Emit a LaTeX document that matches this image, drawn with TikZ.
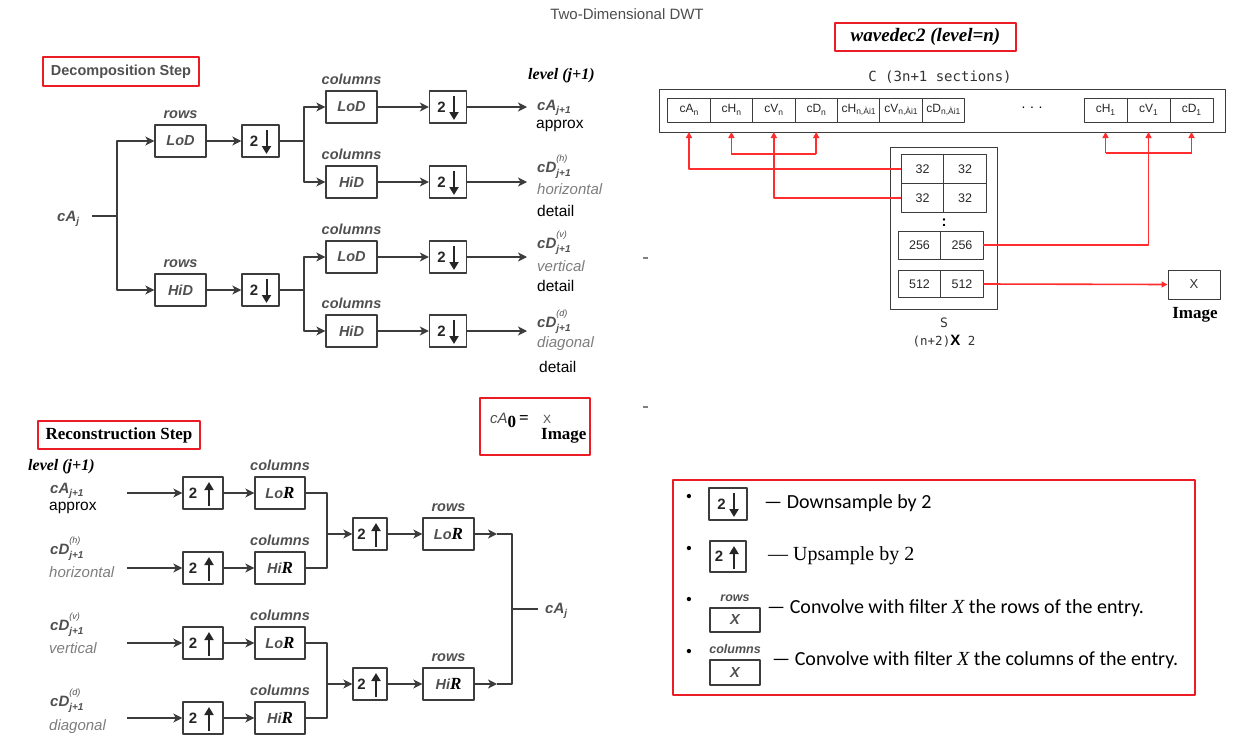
\documentclass[tikz,border=0pt]{standalone}
\usepackage{fontspec}
\setmainfont{Liberation Serif}
\setsansfont{Liberation Sans}
\setmonofont{DejaVu Sans Mono}
\newfontfamily\legfont{Carlito}
\usetikzlibrary{arrows.meta,positioning}

\definecolor{boxred}{RGB}{236,28,36}
\definecolor{wirered}{RGB}{255,45,45}
\definecolor{labgray}{RGB}{80,80,80}
\definecolor{softgray}{RGB}{125,125,125}
\definecolor{linegray}{RGB}{60,60,60}

\newcommand{\sbs}[1]{\raisebox{-3.5pt}{\fontsize{10}{10}\selectfont #1}}
\newcommand{\csbs}[1]{\raisebox{-2.5pt}{\fontsize{8.5}{8.5}\selectfont #1}}
\newcommand{\spsb}[2]{\makebox[0pt][l]{\raisebox{11pt}{\fontsize{9}{9}\selectfont\mdseries #1}}\raisebox{-4pt}{\fontsize{10}{10}\selectfont #2}}
\newcommand{\gap}[1]{\kern#1}

\tikzset{
  wire/.style={draw=linegray, line width=1.3pt},
  flow/.style={wire, -{Stealth[length=9pt,width=9pt,inset=2.5pt]}},
  redbox/.style={draw=boxred, line width=2.6pt, inner sep=0pt},
  redwire/.style={draw=wirered, line width=1.6pt},
  redarr/.style={redwire, -{Triangle[length=6pt,width=6pt]}},
  hdr/.style={font=\sffamily\bfseries\itshape\fontsize{14.5}{15}\selectfont, text=labgray, inner sep=1pt},
  blk/.style={draw=linegray, line width=1.3pt, inner sep=0pt, minimum width=51, minimum height=32,
    font=\sffamily\bfseries\itshape\fontsize{14.5}{15}\selectfont, text=labgray},
  rowblk/.style={blk, label={[hdr, label distance=5pt]above:rows}},
  colblk/.style={blk, label={[hdr, label distance=5pt]above:columns}},
  dsblk/.style={blk, minimum width=37, font=\sffamily\bfseries\fontsize{15}{15}\selectfont, text=black!85,
    path picture={\draw[line width=2pt, black!85, -{Triangle[length=8pt,width=9pt]}]
      ([xshift=6pt,yshift=-5pt]path picture bounding box.north) -- ([xshift=6pt,yshift=3pt]path picture bounding box.south);}},
  usblk/.style={blk, minimum width=40, font=\sffamily\bfseries\fontsize{15}{15}\selectfont, text=black!85,
    path picture={\draw[line width=2pt, black!85, -{Triangle[length=8pt,width=9pt]}]
      ([xshift=6pt,yshift=3pt]path picture bounding box.south) -- ([xshift=6pt,yshift=-5pt]path picture bounding box.north);}},
  lbl/.style={font=\sffamily\bfseries\itshape\fontsize{15}{15}\selectfont, text=labgray, inner sep=0pt, anchor=base west},
  softlbl/.style={font=\sffamily\itshape\fontsize{15}{15}\selectfont, text=softgray, inner sep=0pt, anchor=base west},
  plainlbl/.style={font=\sffamily\fontsize{15.5}{16}\selectfont, text=black, inner sep=0pt, anchor=base west},
  lvl/.style={font=\rmfamily\bfseries\itshape\fontsize{16}{16}\selectfont, text=black, inner sep=0pt, anchor=base west},
  cvcell/.style={draw=linegray, line width=0.9pt, inner sep=0pt, outer sep=0pt, minimum width=42.4, minimum height=24,
    font=\sffamily\fontsize{12}{12}\selectfont, text=black!85},
  scell/.style={cvcell, minimum width=42.5, font=\sffamily\fontsize{12.5}{13}\selectfont},
  legtxt/.style={font=\legfont\fontsize{20}{20}\selectfont, inner sep=0pt, anchor=west},
  bul/.style={font=\rmfamily\fontsize{18}{18}\selectfont, inner sep=0pt}
}

\begin{document}
\begin{tikzpicture}[x=1pt, y=-1pt, line join=round]
\useasboundingbox (0,0) rectangle (1237,744);

\node[font=\sffamily\fontsize{15}{15}\selectfont, text=black!70] (title) at (627,14) {Two-Dimensional DWT};

% decomposition step
\node[redbox, minimum width=156, minimum height=29, font=\sffamily\bfseries\fontsize{14.5}{15}\selectfont, text=labgray] (decstep) at (121,71.5) {Decomposition Step};

\node[lbl] (cAj) at (57,221) {cA\sbs{j}};
\coordinate (cAjout) at (92,216);
\coordinate (spR) at (117,216);
\draw[wire, line width=2.4pt] (cAjout) -- (spR);

\node[rowblk] (LoDr) at (180.5,141) {LoD};
\node[rowblk] (HiDr) at (180.5,290) {HiD};
\node[dsblk] (dsL) at (260.5,141) {2\gap{13pt}};
\node[dsblk] (dsH) at (260.5,290) {2\gap{13pt}};
\coordinate (spL) at (304,141);
\coordinate (spH) at (304,290);

\node[colblk] (LoDa) at (351.5,107) {LoD};
\node[colblk] (HiDh) at (351.5,182) {HiD};
\node[colblk] (LoDv) at (351.5,257) {LoD};
\node[colblk] (HiDd) at (351.5,331) {HiD};
\node[dsblk] (dsA) at (448,107) {2\gap{13pt}};
\node[dsblk] (dsHh) at (448,182) {2\gap{13pt}};
\node[dsblk] (dsV) at (448,257) {2\gap{13pt}};
\node[dsblk] (dsD) at (448,331) {2\gap{13pt}};
\coordinate (outA) at (527,107);
\coordinate (outH) at (527,182);
\coordinate (outV) at (527,257);
\coordinate (outD) at (527,331);

\draw[flow] (spR) |- (LoDr);
\draw[flow] (spR) |- (HiDr);
\draw[flow] (LoDr) -- (dsL);
\draw[flow] (HiDr) -- (dsH);
\draw[wire] (dsL) -- (spL);
\draw[wire] (dsH) -- (spH);
\draw[flow] (spL) |- (LoDa);
\draw[flow] (spL) |- (HiDh);
\draw[flow] (spH) |- (LoDv);
\draw[flow] (spH) |- (HiDd);
\draw[flow] (LoDa) -- (dsA);
\draw[flow] (HiDh) -- (dsHh);
\draw[flow] (LoDv) -- (dsV);
\draw[flow] (HiDd) -- (dsD);
\draw[flow] (dsA) -- (outA);
\draw[flow] (dsHh) -- (outH);
\draw[flow] (dsV) -- (outV);
\draw[flow] (dsD) -- (outD);

\node[lvl] (lvlD) at (528,79) {level (j+1)};
\node[lbl] (cAn1) at (537,110) {cA\sbs{j+1}};
\node[plainlbl] (apxD) at (536,128) {approx};
\node[lbl] (cDh) at (537,172) {cD\spsb{(h)}{j+1}};
\node[softlbl] (horD) at (537,194) {horizontal};
\node[plainlbl] (detH) at (537,216) {detail};
\node[lbl] (cDv) at (537,248) {cD\spsb{(v)}{j+1}};
\node[softlbl] (verD) at (537,271) {vertical};
\node[plainlbl] (detV) at (537,291) {detail};
\node[lbl] (cDd) at (537,327) {cD\spsb{(d)}{j+1}};
\node[softlbl] (diaD) at (537,347) {diagonal};
\node[plainlbl] (detD) at (539,372) {detail};

% small marks
\draw[gray, line width=1.5pt] (643,258) -- (648,258);
\draw[gray, line width=1.5pt] (643,407) -- (648,407);

% reconstruction step
\node[redbox, minimum width=162, minimum height=28, font=\rmfamily\bfseries\fontsize{17}{17}\selectfont] (recstep) at (119,435) {Reconstruction Step};
\node[lvl] (lvlR) at (28,470) {level (j+1)};

\node[lbl] (rcA) at (50,493) {cA\sbs{j+1}};
\node[plainlbl] (rapx) at (49,510) {approx};
\node[lbl] (rcDh) at (50,554) {cD\spsb{(h)}{j+1}};
\node[softlbl] (rhor) at (49,577) {horizontal};
\node[lbl] (rcDv) at (50,630) {cD\spsb{(v)}{j+1}};
\node[softlbl] (rver) at (49,653) {vertical};
\node[lbl] (rcDd) at (50,706) {cD\spsb{(d)}{j+1}};
\node[softlbl] (rdia) at (49,730) {diagonal};

\coordinate (inA) at (127,493);
\coordinate (inH) at (127,568);
\coordinate (inV) at (127,643);
\coordinate (inD) at (127,718);
\node[usblk] (usA) at (203,493) {2\gap{20pt}};
\node[usblk] (usH) at (203,568) {2\gap{20pt}};
\node[usblk] (usV) at (203,643) {2\gap{20pt}};
\node[usblk] (usD) at (203,718) {2\gap{20pt}};
\node[colblk, minimum width=50] (LoRa) at (280,493) {Lo{\rmfamily\fontsize{17}{17}\selectfont\color{black}R}};
\node[colblk, minimum width=50] (HiRh) at (280,568) {Hi{\rmfamily\fontsize{17}{17}\selectfont\color{black}R}};
\node[colblk, minimum width=50] (LoRv) at (280,643) {Lo{\rmfamily\fontsize{17}{17}\selectfont\color{black}R}};
\node[colblk, minimum width=50] (HiRd) at (280,718) {Hi{\rmfamily\fontsize{17}{17}\selectfont\color{black}R}};

\coordinate (jnT) at (327,534);
\coordinate (jnB) at (327,684);
\node[usblk, minimum width=34] (usT) at (370,534) {2\gap{17pt}};
\node[usblk, minimum width=34] (usB) at (370,684) {2\gap{17pt}};
\node[rowblk] (LoRr) at (448.5,534) {Lo{\rmfamily\fontsize{17}{17}\selectfont\color{black}R}};
\node[rowblk] (HiRr) at (448.5,684) {Hi{\rmfamily\fontsize{17}{17}\selectfont\color{black}R}};
\coordinate (ahT) at (497,534);
\coordinate (ahB) at (497,684);
\coordinate (jnO) at (512,609);
\coordinate (outR) at (538,609);

\draw[flow] (inA) -- (usA);
\draw[flow] (inH) -- (usH);
\draw[flow] (inV) -- (usV);
\draw[flow] (inD) -- (usD);
\draw[flow] (usA) -- (LoRa);
\draw[flow] (usH) -- (HiRh);
\draw[flow] (usV) -- (LoRv);
\draw[flow] (usD) -- (HiRd);
\draw[wire] (LoRa) -| (jnT) |- (HiRh);
\draw[wire] (LoRv) -| (jnB) |- (HiRd);
\draw[flow] (jnT) -- (usT);
\draw[flow] (jnB) -- (usB);
\draw[flow] (usT) -- (LoRr);
\draw[flow] (usB) -- (HiRr);
\draw[flow] (LoRr) -- (ahT);
\draw[flow] (HiRr) -- (ahB);
\draw[wire] (ahT) -| (jnO) |- (ahB);
\draw[wire, line width=2.4pt] (jnO) -- (outR);
\node[lbl] (rcAj) at (545,613) {cA\sbs{j}};

% cA0 = X
\node[redbox, minimum width=110, minimum height=57] (cA0box) at (535,426.5) {};
\node[lbl, font=\sffamily\itshape\fontsize{15}{15}\selectfont] (cA0) at (490,423) {cA{\rmfamily\bfseries\upshape\fontsize{17}{17}\selectfont\color{black}\raisebox{-4pt}{0}\,=}};
\node[lbl, font=\sffamily\fontsize{12}{12}\selectfont] (cA0x) at (543,423) {X};
\node[lbl, font=\rmfamily\bfseries\fontsize{17}{17}\selectfont, text=black] (cA0img) at (541,439) {Image};

% wavedec2
\node[redbox, minimum width=181, minimum height=28, font=\rmfamily\bfseries\itshape\fontsize{19}{19}\selectfont] (wdec) at (925.5,37) {wavedec2 (level=n)};
\node[font=\ttfamily\fontsize{14}{14}\selectfont, text=black!80] (Csec) at (940,77) {C (3n+1 sections)};
\node[draw=linegray, line width=1pt, inner sep=0pt, outer sep=0pt, minimum width=566, minimum height=43] (Cvec) at (942,110.5) {};

\node[cvcell] (cAn) at (689,110) {cA\csbs{n}};
\node[cvcell, right=0pt of cAn] (cHn) {cH\csbs{n}};
\node[cvcell, right=0pt of cHn] (cVn) {cV\csbs{n}};
\node[cvcell, right=0pt of cVn] (cDn) {cD\csbs{n}};
\node[cvcell, right=0pt of cDn] (cHm) {cH\csbs{n,Ài1}};
\node[cvcell, right=0pt of cHm] (cVm) {cV\csbs{n,Ài1}};
\node[cvcell, right=0pt of cVm] (cDm) {cD\csbs{n,Ài1}};
\node[font=\sffamily\fontsize{14}{14}\selectfont] (cdots) at (1032,108) {.\,\,.\,\,.};
\node[cvcell, minimum width=43] (cH1) at (1105.5,110) {cH\csbs{1}};
\node[cvcell, minimum width=43, right=0pt of cH1] (cV1) {cV\csbs{1}};
\node[cvcell, minimum width=43, right=0pt of cV1] (cD1) {cD\csbs{1}};

% S matrix
\node[draw=linegray, line width=1pt, inner sep=0pt, minimum width=107, minimum height=162] (Sarr) at (943.5,228) {};
\node[scell, minimum height=29] (s32a) at (922.5,169) {32};
\node[scell, minimum height=29, right=0pt of s32a] (s32b) {32};
\node[scell, minimum height=29, below=0pt of s32a] (s32c) {32};
\node[scell, minimum height=29, right=0pt of s32c] (s32d) {32};
\node[font=\sffamily\bfseries\fontsize{15}{15}\selectfont] (sdots) at (944,223) {:};
\node[scell, minimum height=28] (s256a) at (919.5,245) {256};
\node[scell, minimum height=28, right=0pt of s256a] (s256b) {256};
\node[scell, minimum height=27] (s512a) at (919.5,284) {512};
\node[scell, minimum height=27, right=0pt of s512a] (s512b) {512};
\node[font=\ttfamily\fontsize{13}{13}\selectfont, text=black!80] (Slbl) at (944,323) {S};
\node[font=\ttfamily\fontsize{12.5}{13}\selectfont, text=black!80] (Ssize) at (944,341) {(n+2){\sffamily\bfseries\fontsize{15}{15}\selectfont\color{black}X} 2};

\node[draw=linegray, line width=1pt, inner sep=0pt, minimum width=52, minimum height=29, font=\sffamily\fontsize{13}{13}\selectfont, text=black!80] (Ximg) at (1194,284.5) {X};
\node[font=\rmfamily\bfseries\fontsize{17}{17}\selectfont] (Ximglbl) at (1195,315) {Image};

\coordinate (brkL) at (0,154);
\coordinate (brkR) at (0,153);
\draw[redarr] (s32a.west) -| (cAn.south |- Cvec.south);
\draw[redarr] (s32c.west) -| (cVn.south |- Cvec.south);
\draw[redwire] (cHn |- brkL) -- (cDn |- brkL);
\draw[redarr] (cHn |- brkL) -- (cHn.south |- Cvec.south);
\draw[redarr] (cDn |- brkL) -- (cDn.south |- Cvec.south);
\draw[redwire] (cH1 |- brkR) -- (cD1 |- brkR);
\draw[redarr] (cH1 |- brkR) -- (cH1.south |- Cvec.south);
\draw[redarr] (cD1 |- brkR) -- (cD1.south |- Cvec.south);
\draw[redarr] (s256b.east) -| (cV1.south |- Cvec.south);
\draw[redarr] (s512b.east) -- (Ximg.west);

% legend
\node[redbox, minimum width=522, minimum height=215] (legbox) at (934,587.5) {};
\node[bul] (bul1) at (689,498) {\textbullet};
\node[bul] (bul2) at (689,550) {\textbullet};
\node[bul] (bul3) at (689,601) {\textbullet};
\node[bul] (bul4) at (689,653) {\textbullet};
\node[dsblk, minimum width=38] (lgds) at (728,504) {2\gap{13pt}};
\node[usblk, minimum width=36, minimum height=31] (lgus) at (728,556.5) {2\gap{18pt}};
\node[blk, minimum width=50, minimum height=24, label={[hdr, font=\sffamily\bfseries\itshape\fontsize{12.5}{13}\selectfont, label distance=5pt]above:rows}] (lgrow) at (735,620) {X};
\node[blk, minimum width=50, minimum height=25, label={[hdr, font=\sffamily\bfseries\itshape\fontsize{12.5}{13}\selectfont, label distance=5pt]above:columns}] (lgcol) at (735,672.5) {X};
\node[legtxt] (lgt1) at (764,503) {— Downsample by 2};
\node[legtxt, font=\rmfamily\fontsize{20}{20}\selectfont] (lgt2) at (768,556) {— Upsample by 2};
\node[legtxt] (lgt3) at (767,608) {— Convolve with filter {\rmfamily\itshape X} the rows of the entry.};
\node[legtxt] (lgt4) at (772,660) {— Convolve with filter {\rmfamily\itshape X} the columns of the entry.};
\end{tikzpicture}
\end{document}
